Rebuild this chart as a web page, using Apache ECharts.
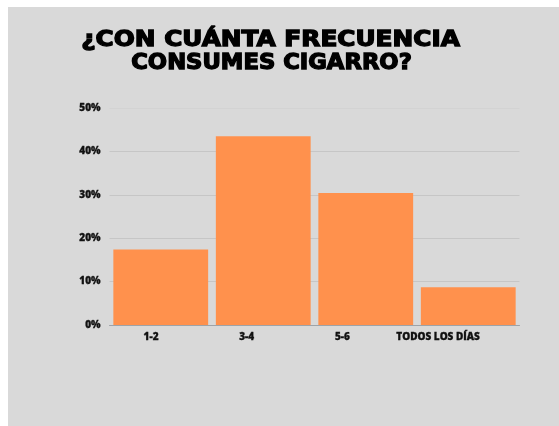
<!DOCTYPE html>
<html>
<head>
<meta charset="utf-8">
<script src="https://cdn.jsdelivr.net/npm/echarts@6/dist/echarts.min.js"></script>
<style>
  html, body { margin: 0; padding: 0; background: #ffffff; }
  #chart { position: absolute; left: 8px; top: 7px; width: 551px; height: 419px; }
</style>
</head>
<body>
<div id="chart"></div>
<script>
const titleLines = ['¿CON CUÁNTA FRECUENCIA', 'CONSUMES CIGARRO?'];
const categories = ['1-2', '3-4', '5-6', 'TODOS LOS DÍAS'];
const values = [17.4, 43.5, 30.4, 8.7];
const yTicks = [0, 10, 20, 30, 40, 50];

const chart = echarts.init(document.getElementById('chart'), null, { renderer: 'canvas' });
const titleFont = 'bold 21px "DejaVu Sans", "Liberation Sans", sans-serif';
const titleStyle = { font: titleFont, fill: '#000', stroke: '#000', lineWidth: 1.3, textAlign: 'center', textVerticalAlign: 'middle' };
chart.setOption({
  backgroundColor: '#d9d9d9',
  animation: false,
  graphic: [
    { type: 'text', x: 262.5, y: 34, scaleX: 1.18, style: Object.assign({ text: titleLines[0] }, titleStyle) },
    { type: 'text', x: 263.5, y: 57, scaleX: 1.08, style: Object.assign({ text: titleLines[1] }, titleStyle) }
  ],
  grid: [
    { left: 101.5, width: 410, top: 101, bottom: 101, containLabel: false },
    { left: 95.2, width: 382.7, top: 101, bottom: 101, containLabel: false }
  ],
  xAxis: [
    {
      type: 'category', gridIndex: 0, data: categories,
      axisLine: { show: true, lineStyle: { color: '#9ea3a8', width: 1 } },
      axisTick: { show: false },
      axisLabel: { show: false }
    },
    {
      type: 'category', gridIndex: 1, data: categories,
      axisLine: { show: false }, axisTick: { show: false },
      axisLabel: { show: true, interval: 0, margin: 7, color: '#111', fontFamily: '"Open Sans", sans-serif', fontWeight: 800, fontSize: 10, textBorderColor: '#111', textBorderWidth: 0.3 }
    }
  ],
  yAxis: [
    {
      type: 'value', gridIndex: 0, min: yTicks[0], max: yTicks[yTicks.length - 1], interval: 10,
      axisLine: { show: false }, axisTick: { show: false },
      axisLabel: { margin: 9, color: '#111', fontFamily: '"Open Sans", sans-serif', fontWeight: 800, fontSize: 10, textBorderColor: '#111', textBorderWidth: 0.3, formatter: v => v + '%' },
      splitLine: { show: true, lineStyle: { color: ['#c6c6c6', '#c6c6c6', '#c6c6c6', '#c6c6c6', '#c6c6c6', '#d3d3d3'], width: 1 } }
    },
    { type: 'value', gridIndex: 1, show: false }
  ],
  series: [
    {
      type: 'bar', xAxisIndex: 0, yAxisIndex: 0, data: values,
      barCategoryGap: '7.5%',
      itemStyle: { color: '#ff914d' }
    }
  ]
});
</script>
</body>
</html>
